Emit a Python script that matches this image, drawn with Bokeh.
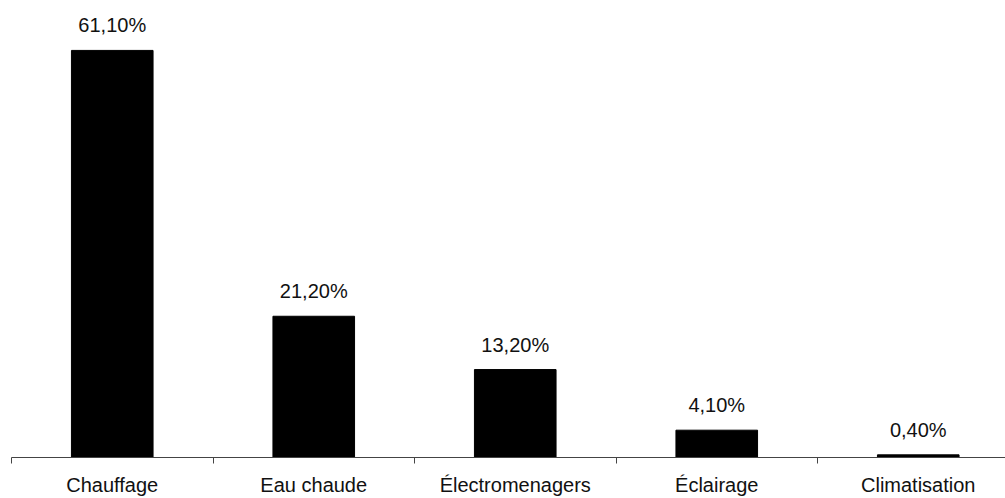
from bokeh.plotting import figure
from bokeh.models import Range1d, FixedTicker, ColumnDataSource
from bokeh.core.properties import value
from bokeh.embed import file_html
from bokeh.resources import INLINE

categories = ["Chauffage", "Eau chaude", "Électromenagers", "Éclairage", "Climatisation"]
values = [61.1, 21.2, 13.2, 4.1, 0.4]

centers = [i + 0.5 for i in range(len(categories))]
boundaries = [float(i) for i in range(len(categories) + 1)]
labels = [f"{v:.2f}".replace(".", ",") + "%" for v in values]

src = ColumnDataSource(data=dict(x=centers, top=values, label=labels))

p = figure(width=1005, height=498, output_backend="svg", toolbar_location=None,
           x_range=Range1d(0, 4.933), y_range=Range1d(0, 67.09),
           y_axis_location=None,
           min_border_left=11, min_border_right=0, min_border_top=10, min_border_bottom=40)
p.outline_line_color = None
p.xgrid.visible = False
p.ygrid.visible = False
p.background_fill_color = "white"
p.border_fill_color = "white"

p.vbar(x="x", top="top", width=0.405, source=src, fill_color="black", line_color="black")
p.text(x="x", y="top", text="label", source=src, text_align="center",
       text_baseline="alphabetic", y_offset=-25,
       text_font=value("Liberation Sans"), text_font_size="20px", text_color="#111111")

ax = p.xaxis[0]
ax.ticker = FixedTicker(ticks=centers, minor_ticks=boundaries)
ax.major_label_overrides = {c: n for c, n in zip(centers, categories)}
ax.major_tick_out = 6
ax.major_tick_in = 0
ax.major_tick_line_color = None
ax.minor_tick_out = 6
ax.minor_tick_in = 0
ax.minor_tick_line_color = "#444444"
ax.axis_line_color = "#444444"
ax.major_label_standoff = 10
ax.major_label_text_font = "Liberation Sans"
ax.major_label_text_font_size = "20px"
ax.major_label_text_color = "#111111"

open("out.html", "w").write(file_html(p, INLINE))
